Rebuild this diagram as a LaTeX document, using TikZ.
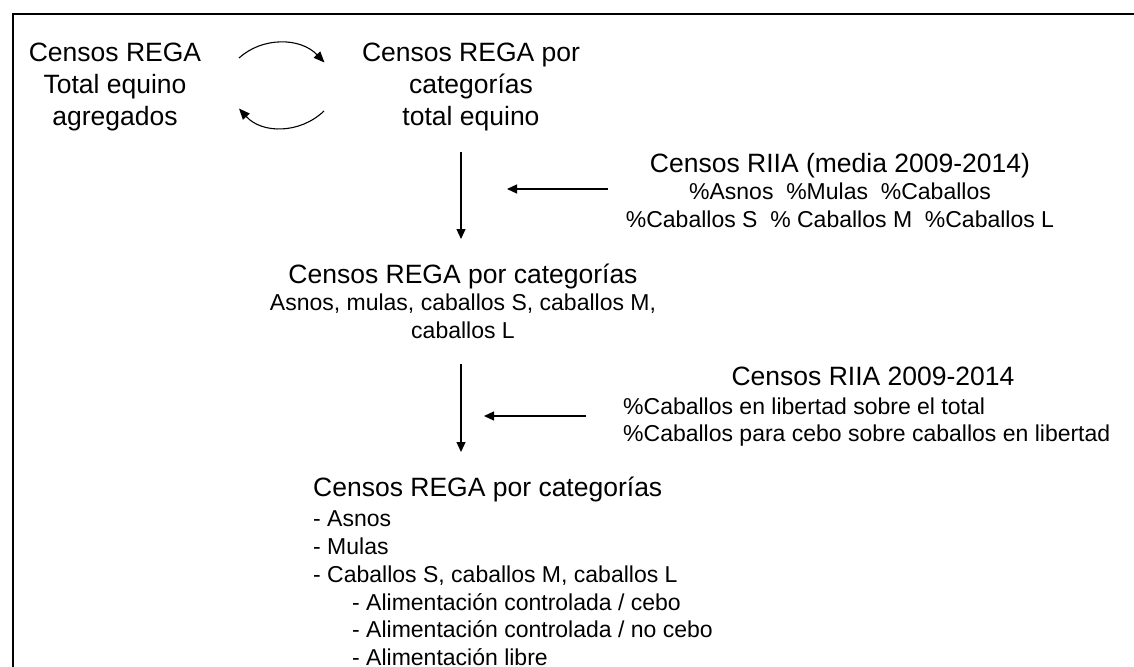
\documentclass[tikz,border=0pt]{standalone}
\usepackage{fontspec}
\setmainfont{Liberation Sans}
\usetikzlibrary{arrows.meta}
\newcommand\hdfont{\fontsize{26.5}{32}\selectfont}
\newcommand\subfont{\fontsize{23}{27.5}\selectfont}
\newcommand\listfont{\fontsize{23}{27.8}\selectfont}
\begin{document}
\begin{tikzpicture}[x=1pt,y=-1pt,
  blk/.style={align=center, inner sep=0pt},
  arr/.style={line width=1.2pt, -{Triangle[length=10pt,width=9pt]}},
  curvearr/.style={line width=1.1pt, -{Triangle[length=11pt,width=9pt]}},
  frame/.style={line width=2.6pt}]
\useasboundingbox (0,0) rectangle (1134,666);
\begin{scope}
  \clip (0,0) rectangle (1134,666);
  \draw[frame] (12.8,690) -- (12.8,14) -- (1160,14);
\end{scope}

% text blocks
\node[blk, font=\hdfont] (tl) at (115,86.8) {Censos REGA\\Total equino\\agregados};
\node[blk, font=\hdfont] (tm) at (471,86.8) {Censos REGA por\\categorías\\total equino};
\node[blk, font=\subfont] (riia1) at (840,190.3) {\hdfont Censos RIIA (media 2009-2014)\\\%Asnos\ \ \%Mulas\ \ \%Caballos\\\%Caballos S\ \ \% Caballos M\ \ \%Caballos L};
\node[blk, font=\subfont] (rega2) at (463,301.2) {\hdfont Censos REGA por categorías\\Asnos, mulas, caballos S, caballos M,\\caballos L};
\node[inner sep=0pt, font=\hdfont, anchor=base] (riia2) at (873,385.5) {Censos RIIA 2009-2014};
\node[inner sep=0pt, align=left, font=\subfont, anchor=north west] (riia2l) at (623,397.4) {\%Caballos en libertad sobre el total\\\%Caballos para cebo sobre caballos en libertad};
\node[inner sep=0pt, align=left, font=\listfont, anchor=north west] (rega3) at (313,477.2) {\hdfont Censos REGA por categorías\\[2pt]- Asnos\\- Mulas\\- Caballos S, caballos M, caballos L\\\hspace*{39pt}- Alimentación controlada / cebo\\\hspace*{39pt}- Alimentación controlada / no cebo\\\hspace*{39pt}- Alimentación libre};

% connector end points
\coordinate (c1s) at (239,58);  \coordinate (c1e) at (324.5,62.5);
\coordinate (c2s) at (324,111); \coordinate (c2e) at (239,108.5);
\coordinate (v1s) at (461,152); \coordinate (v1e) at (461,239);
\coordinate (h1s) at (608,189); \coordinate (h1e) at (507,189);
\coordinate (v2s) at (461,364); \coordinate (v2e) at (461,452);
\coordinate (h2s) at (586,416); \coordinate (h2e) at (484,416);

\draw[curvearr] (c1s) .. controls (262,37) and (300,37) .. (c1e);
\draw[curvearr] (c2s) .. controls (300,134) and (262,134) .. (c2e);
\draw[arr] (v1s) -- (v1e);
\draw[arr] (h1s) -- (h1e);
\draw[arr] (v2s) -- (v2e);
\draw[arr] (h2s) -- (h2e);
\end{tikzpicture}
\end{document}
